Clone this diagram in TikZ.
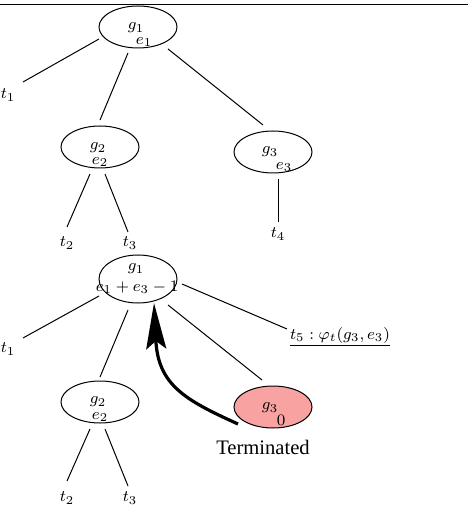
\documentclass[tikz,border=0pt]{standalone}
\usepackage{fontspec}
\newfontfamily\tmfont{Liberation Serif}
\usetikzlibrary{calc,arrows.meta,shapes.geometric}
\definecolor{termfill}{RGB}{249,162,162}
\begin{document}
\begin{tikzpicture}[x=0.5pt,y=-0.5pt,
 gnode/.style={draw,ellipse,line width=0.5pt,minimum width=39pt,minimum height=21pt,inner sep=0pt},
 lbl/.style={inner sep=0pt,font=\footnotesize},
 edge/.style={line width=0.5pt},
 bigarrow/.style={line width=1.6pt,-{Stealth[length=23pt,width=10pt,inset=4pt]}}]
\useasboundingbox (0,0) rectangle (470,528);
\draw[edge] (0,5) -- (468,5);
% ---------- tree 1
\node[gnode] (a1) at (138,27) {};
\node[lbl] (a1g) at (136,28) {$g_1$};
\node[lbl] (a1e) at (144,42) {$e_1$};
\node[gnode] (a2) at (100,147) {};
\node[lbl] (a2g) at (98,148) {$g_2$};
\node[lbl] (a2e) at (100,162) {$e_2$};
\node[gnode] (a3) at (273,152) {};
\node[lbl] (a3g) at (270,152) {$g_3$};
\node[lbl] (a3e) at (284,167) {$e_3$};
\node[lbl] (t1a) at (8,95) {$t_1$};
\node[lbl] (t2a) at (67,243) {$t_2$};
\node[lbl] (t3a) at (130,243) {$t_3$};
\node[lbl] (t4a) at (278,234) {$t_4$};
\draw[edge] ($(a1)+(-39,12)$) -- ($(t1a)+(15,-13)$);
\draw[edge] ($(a1)+(-10,26)$) -- ($(a2)+(0,-27)$);
\draw[edge] ($(a1)+(30,22)$) -- ($(a3)+(-10,-27)$);
\draw[edge] ($(a2)+(-10,27)$) -- ($(t2a)+(0,-16)$);
\draw[edge] ($(a2)+(5,27)$) -- ($(t3a)+(-2,-11)$);
\draw[edge] ($(a3)+(5,27)$) -- ($(t4a)+(0,-12)$);
% ---------- tree 2
\node[gnode,minimum height=24pt] (b1) at (138,279) {};
\node[lbl] (b1g) at (136,269) {$g_1$};
\node[lbl] (b1e) at (137,287) {$e_1+e_3-1$};
\node[gnode] (b2) at (100,402) {};
\node[lbl] (b2g) at (98,402) {$g_2$};
\node[lbl] (b2e) at (100,417) {$e_2$};
\node[gnode,fill=termfill] (b3) at (273,407) {};
\node[lbl] (b3g) at (270,408) {$g_3$};
\node[lbl] (b3z) at (281,420) {$0$};
\node[inner sep=0pt,font=\tmfont\fontsize{10.3pt}{12pt}\selectfont] (term) at (263,447) {Terminated};
\node[lbl] (t1b) at (8,349) {$t_1$};
\node[lbl] (t2b) at (67,498) {$t_2$};
\node[lbl] (t3b) at (130,498) {$t_3$};
\node[lbl] (t5b) at (340,337) {\underline{$t_5 : \varphi_t(g_3,e_3)$}};
\draw[edge] ($(b1)+(-39,17)$) -- ($(t1b)+(15,-11)$);
\draw[edge] ($(b1)+(-10,31)$) -- ($(b2)+(0,-25)$);
\draw[edge] ($(b1)+(30,26)$) -- ($(b3)+(-11,-27)$);
\draw[edge] ($(b1)+(44,5)$) -- ($(t5b)+(-53,-8)$);
\draw[edge] ($(b2)+(-10,27)$) -- ($(t2b)+(0,-17)$);
\draw[edge] ($(b2)+(5,27)$) -- ($(t3b)+(-2,-12)$);
\draw[bigarrow] ($(b3)+(-35,17)$) .. controls (185,400) and (158,385) .. ($(b1)+(16,24)$);
\end{tikzpicture}
\end{document}
